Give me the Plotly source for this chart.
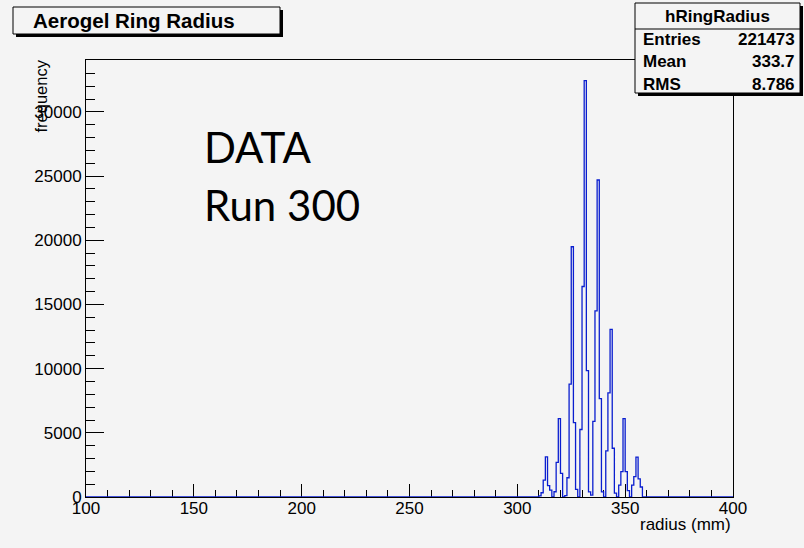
import numpy as np
import plotly.graph_objects as go

# histogram hRingRadius: 1 mm bins from 100 to 400, only these are non-empty
radius_bins = list(range(310, 359))
counts = [
    80, 330, 1320, 3130, 880, 540, 0,          # 310-316
    410, 2700, 6100, 1840, 0, 100,             # 317-322
    1500, 8800, 19500, 5800, 600, 0,           # 323-328
    5260, 16400, 32450, 9850, 400, 150,        # 329-334
    5900, 14500, 24700, 7670, 400, 0,          # 335-340
    3600, 8110, 13060, 3800, 300, 0,           # 341-346
    930, 1970, 6110, 1970, 500, 0,             # 347-352
    930, 1590, 3110, 1420, 780, 0,             # 353-358
]
x_ticks = [100, 150, 200, 250, 300, 350, 400]
y_ticks = [0, 5000, 10000, 15000, 20000, 25000, 30000]
stats_labels = ["Entries", "Mean", "RMS"]
stats_values = ["221473", "333.7", "8.786"]

edges = np.arange(100, 401)
h = np.zeros(300)
h[np.array(radius_bins) - 100] = counts

BG = "#f4f4f4"
BLUE = "#0a1ecf"
FONT = "Liberation Sans, Arial, sans-serif"

# plot frame in pixels
L, R, T, B = 86, 733, 60, 497
def px(x):
    return (x - L) / (R - L)
def py(y):
    return (B - y) / (B - T)

def label(text, x, y, size=17, xa="center", angle=0, ya="middle", family=FONT):
    return dict(text=text, x=px(x), y=py(y), xref="paper", yref="paper", xanchor=xa, yanchor=ya,
                textangle=angle, showarrow=False, font=dict(size=size, color="black", family=family))

fig = go.Figure()
fig.add_trace(go.Scatter(
    x=edges, y=np.append(h, h[-1]), mode="lines", line_shape="hv",
    line=dict(color=BLUE, width=1.3), cliponaxis=False, hoverinfo="skip"))

def box(x0, x1, y0, y1, sh=3):
    return [
        dict(type="rect", xref="paper", yref="paper", x0=px(x0 + sh), x1=px(x1 + sh),
             y0=py(y0 + sh), y1=py(y1 + sh), fillcolor="black", line_width=0, layer="above"),
        dict(type="rect", xref="paper", yref="paper", x0=px(x0), x1=px(x1),
             y0=py(y0), y1=py(y1), fillcolor=BG, line=dict(color="black", width=1), layer="above"),
    ]

shapes = box(13, 280, 7, 34) + box(635, 800, 3, 93)
shapes.append(dict(type="line", xref="paper", yref="paper", x0=px(635), x1=px(800),
                   y0=py(29), y1=py(29), line=dict(color="black", width=1), layer="above"))

ann = [
    label("<b>Aerogel Ring Radius</b>", 31, 21, size=20.5, xa="left"),
    label("<b>hRingRadius</b>", 717, 16),
]
for i, (lab, val) in enumerate(zip(stats_labels, stats_values)):
    ann.append(label("<b>%s</b>" % lab, 641, 40 + 22 * i, xa="left"))
    ann.append(label("<b>%s</b>" % val, 797, 40 + 22 * i, xa="right"))
ann.append(label("frequency", 40, 58, size=16.5, angle=-90, ya="top"))
ann.append(label("radius (mm)", 733, 524, xa="right"))
ann.append(label("DATA", 202, 147, size=42, xa="left", family="Lato"))
ann.append(label("Run 300", 202, 205, size=42, xa="left", family="Lato"))

fig.update_layout(
    width=804, height=548,
    margin=dict(l=L, r=804 - R, t=T, b=548 - B),
    paper_bgcolor=BG, plot_bgcolor=BG,
    showlegend=False,
    shapes=shapes, annotations=ann,
    font=dict(family=FONT, size=17, color="black"),
)
fig.update_xaxes(
    range=[100, 400], tickvals=x_ticks, ticks="inside", ticklen=13, tickcolor="black",
    showgrid=False, zeroline=False, showline=True, linecolor="black", linewidth=1, mirror=True,
    minor=dict(dtick=10, ticks="inside", ticklen=7, tickcolor="black", showgrid=False),
    layer="below traces", tickfont=dict(size=17), ticklabelstandoff=-4,
)
fig.update_yaxes(
    range=[0, 34050], tickvals=y_ticks, tickformat="d", ticks="inside", ticklen=18, tickcolor="black",
    showgrid=False, zeroline=False, showline=True, linecolor="black", linewidth=1, mirror=True,
    minor=dict(dtick=1000, ticks="inside", ticklen=9, tickcolor="black", showgrid=False),
    layer="below traces", tickfont=dict(size=17),
)

fig.write_html("out.html", config={"displayModeBar": False},
               post_script="document.body.style.margin='0px';")
